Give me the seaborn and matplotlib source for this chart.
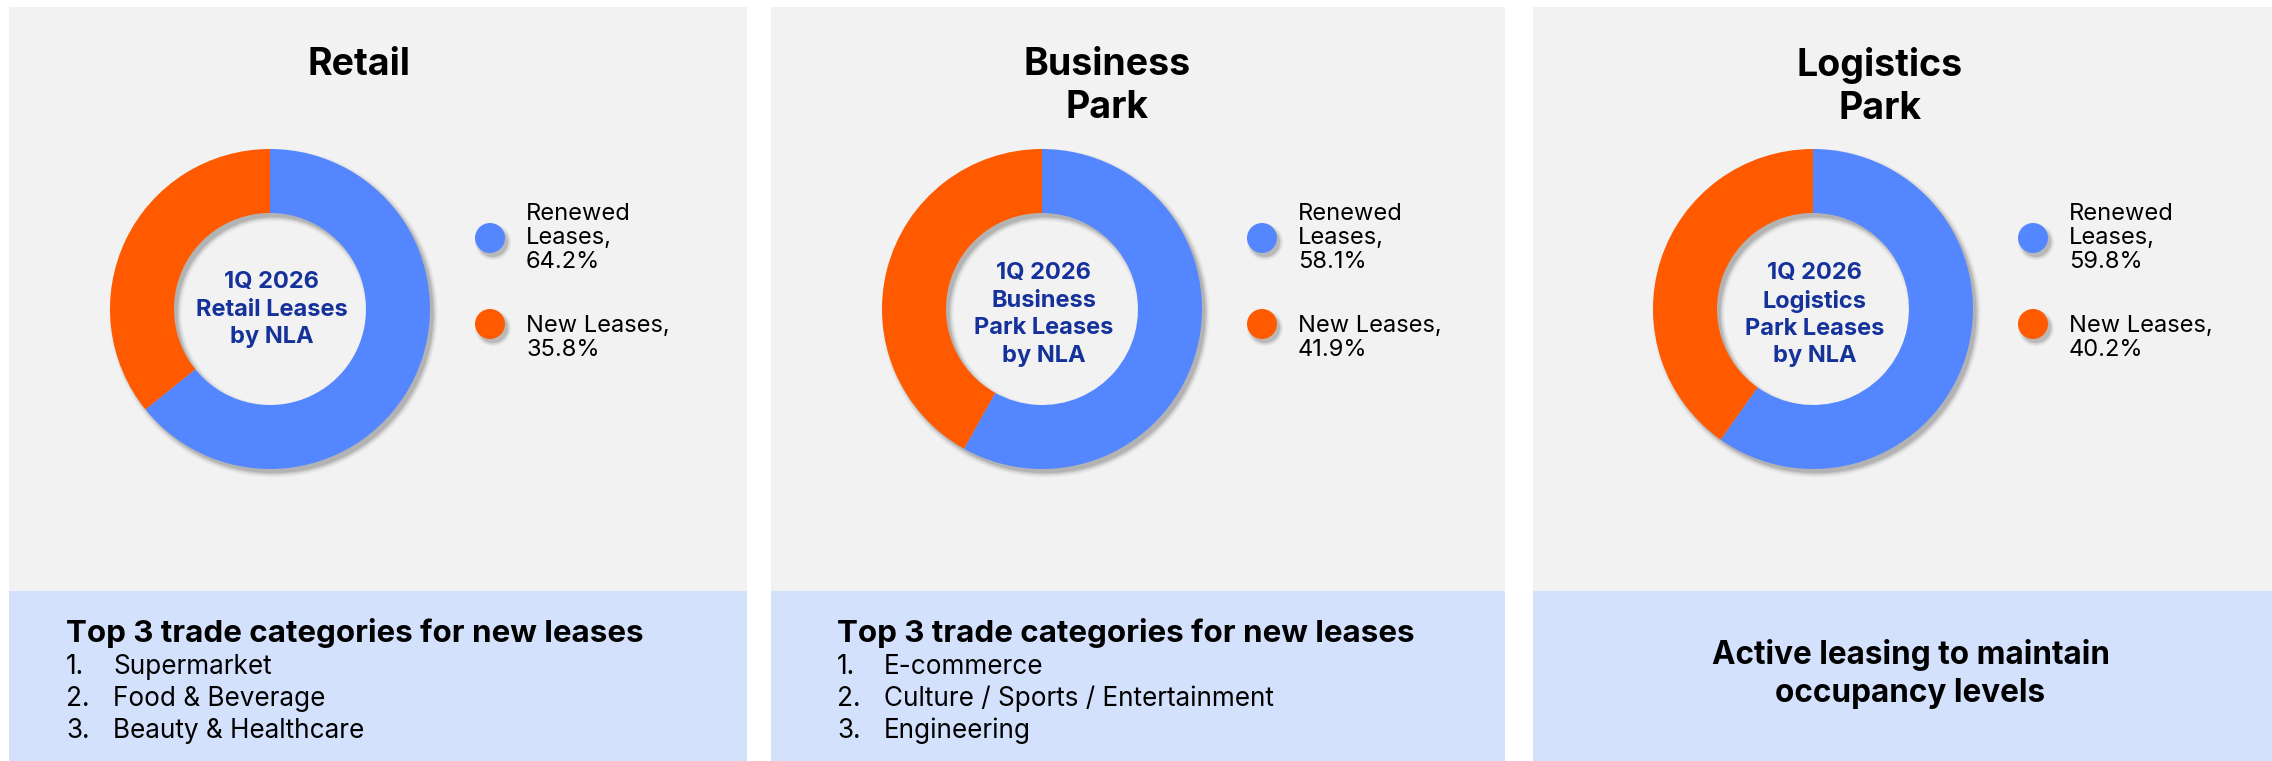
import matplotlib
matplotlib.use("Agg")
import matplotlib.pyplot as plt
from matplotlib.patches import Rectangle, Circle, Wedge
import seaborn as sns

# ---- data ----
segments = ["Renewed Leases", "New Leases"]
retail_share = [64.2, 35.8]
business_park_share = [58.1, 41.9]
logistics_park_share = [59.8, 40.2]

panel_titles = ["Retail", "Business\nPark", "Logistics\nPark"]
center_labels = [
    "1Q 2026\nRetail Leases\nby NLA",
    "1Q 2026\nBusiness\nPark Leases\nby NLA",
    "1Q 2026\nLogistics\nPark Leases\nby NLA",
]
retail_top_trades = ["Supermarket", "Food & Beverage", "Beauty & Healthcare"]
business_park_top_trades = ["E-commerce", "Culture / Sports / Entertainment", "Engineering"]
logistics_note = "Active leasing to maintain\noccupancy levels"
trades_heading = "Top 3 trade categories for new leases"

shares = [retail_share, business_park_share, logistics_park_share]

# ---- style ----
sns.set_theme(style="white")
plt.rcParams["font.family"] = ["Inter", "DejaVu Sans"]
palette = sns.color_palette(["#5487FF", "#FF5A00"])
PANEL_BG = "#F2F2F2"
NOTE_BG = "#D4E1FC"
LABEL_BLUE = "#15329B"

W, H = 2272, 761
fig = plt.figure(figsize=(W / 100, H / 100), dpi=100)
fig.patch.set_facecolor("white")

bg = fig.add_axes([0, 0, 1, 1], zorder=0)
bg.set_xlim(0, W)
bg.set_ylim(H, 0)
bg.axis("off")

panels = [(9, 747), (771, 1505), (1533, 2272)]
title_x = [359, 1107, 1880]
top_y, split_y = 7, 591
donut_cx = [270, 1042, 1813]
donut_cy = 309
R_PX = 160
AX_HALF = 200


def soft_shadow(ax, center, r, width, dx, dy):
    # stacked translucent rings give a soft drop shadow
    for grow, alpha in [(0.0, 0.10), (0.008, 0.08), (0.016, 0.06), (0.026, 0.04)]:
        ax.add_patch(Wedge((center[0] + dx, center[1] - dy), r + grow, 0, 360,
                           width=width + 2 * grow,
                           facecolor="black", edgecolor="none", alpha=alpha, zorder=0))


for i, ((x0, x1), title, clabel, vals) in enumerate(zip(panels, panel_titles, center_labels, shares)):
    pw = x1 - x0
    bg.add_patch(Rectangle((x0, top_y), pw, split_y - top_y, facecolor=PANEL_BG, edgecolor="none"))
    bg.add_patch(Rectangle((x0, split_y), pw, H - split_y, facecolor=NOTE_BG, edgecolor="none"))

    bg.text(title_x[i], 47, title, ha="center", va="top",
            fontsize=27, fontweight="bold", color="black", linespacing=1.25)

    # donut
    cx = donut_cx[i]
    ax = fig.add_axes([(cx - AX_HALF) / W, 1 - (donut_cy + AX_HALF) / H,
                       2 * AX_HALF / W, 2 * AX_HALF / H], zorder=2)
    ax.set_facecolor("none")
    lim = AX_HALF / R_PX
    ax.set_aspect("equal")
    ax.axis("off")
    soft_shadow(ax, (0, 0), 1.0, 0.4, 0.022, 0.026)
    ax.pie(vals, colors=palette, startangle=90, counterclock=False, radius=1.0,
           wedgeprops=dict(width=0.4, edgecolor="none"))
    ax.set_xlim(-lim, lim)
    ax.set_ylim(-lim, lim)
    ax.text(0.01, -0.035 if clabel.count("\n") == 3 else -0.005, clabel, ha="center", va="center",
            fontsize=17, fontweight="bold", color=LABEL_BLUE, linespacing=1.32)

    # legend
    lx = cx + 220
    leg_y = [238, 324]
    leg_text_y = [238, 338]
    leg_labels = [f"Renewed\nLeases,\n{vals[0]:.1f}%", f"New Leases,\n{vals[1]:.1f}%"]
    for k in range(2):
        for grow, alpha in [(0, 0.12), (1.5, 0.08), (3, 0.05)]:
            bg.add_patch(Circle((lx + 3, leg_y[k] + 4), 15 + grow, facecolor="black",
                                edgecolor="none", alpha=alpha, zorder=1))
        bg.add_patch(Circle((lx, leg_y[k]), 15, facecolor=palette[k], edgecolor="none", zorder=2))
        bg.text(lx + 36, leg_text_y[k], leg_labels[k], ha="left", va="center",
                fontsize=17, color="black", linespacing=1.12)

# trade lists
list_offsets = [(57, 104), (66, 113)]
for (x0, x1), items, (hx, ix) in zip(panels[:2], [retail_top_trades, business_park_top_trades], list_offsets):
    bg.text(x0 + hx, 633, trades_heading, ha="left", va="center",
            fontsize=22.6, fontweight="bold", color="black")
    for j, item in enumerate(items):
        y = 667 + j * 32
        bg.text(x0 + hx, y, f"{j + 1}.", ha="left", va="center", fontsize=18.8, color="black")
        bg.text(x0 + ix, y, item, ha="left", va="center", fontsize=18.8, color="black")

x0, x1 = panels[2]
bg.text((x0 + x1) / 2 + 8, 674, logistics_note, ha="center", va="center",
        fontsize=22.7, fontweight="bold", color="black", linespacing=1.3)

fig.savefig("out.png", dpi=100, facecolor="white")
